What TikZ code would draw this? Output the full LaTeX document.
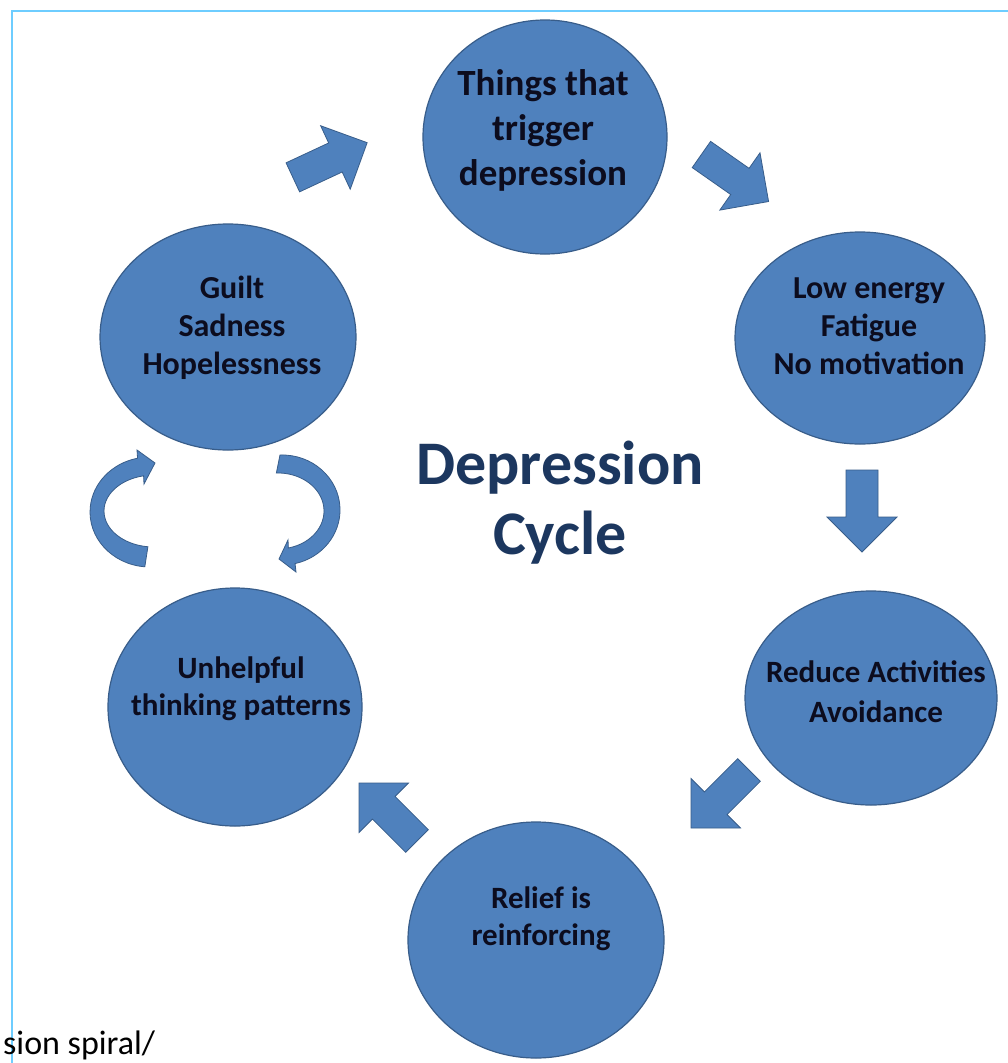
\documentclass[tikz,border=0pt]{standalone}
\usepackage{fontspec}
\setmainfont{Carlito}
\usetikzlibrary{shapes.geometric}

\definecolor{bubblefill}{RGB}{79,129,189}
\definecolor{bubbleline}{RGB}{56,93,138}
\definecolor{titleblue}{RGB}{28,55,95}
\definecolor{framecyan}{RGB}{110,205,255}
\definecolor{inkblack}{RGB}{12,12,30}

\begin{document}
\begin{tikzpicture}[x=1pt,y=-1pt,
    bubble/.style={ellipse,fill=bubblefill,draw=bubbleline,line width=1.2pt,inner sep=0pt},
    bubbletext/.style={align=center,text=inkblack,font=\fontsize{32}{38}\selectfont\bfseries},
    arrowbody/.style={fill=bubblefill,draw=bubbleline,line width=0.8pt,line join=miter},
    blockarrow/.pic={
      \filldraw[arrowbody] (-41,-16) -- (6,-16) -- (6,-35) -- (41,0)
                        -- (6,35) -- (6,16) -- (-41,16) -- cycle;
    }]
    \useasboundingbox (0,0) rectangle (1008,1063);
    \clip (0,0) rectangle (1008,1063);
    \fill[white] (0,0) rectangle (1008,1063);
    \draw[framecyan,line width=2pt] (12,1063) -- (12,11) -- (1008,11);

    \node[bubble,minimum width=244pt,minimum height=234pt] (trigger) at (545,137) {};
    \node[bubble,minimum width=250pt,minimum height=212pt] (energy)  at (860,338) {};
    \node[bubble,minimum width=252pt,minimum height=214pt] (reduce)  at (871,698) {};
    \node[bubble,minimum width=256pt,minimum height=236pt] (relief)  at (536,940) {};
    \node[bubble,minimum width=254pt,minimum height=238pt] (unhelp)  at (235,707) {};
    \node[bubble,minimum width=256pt,minimum height=226pt] (guilt)   at (228,337) {};

    \node[bubbletext,font=\fontsize{37}{45}\selectfont\bfseries] (triggertext) at (543,130) {Things that\\trigger\\depression};
    \node[bubbletext] (energytext) at (869,326) {Low energy\\Fatigue\\No motivation};
    \node[bubbletext,font=\fontsize{31}{40}\selectfont\bfseries] (reducetext) at (876,692) {Reduce Activities\\Avoidance};
    \node[bubbletext,font=\fontsize{31}{37}\selectfont\bfseries] (relieftext) at (541,919) {Relief is\\reinforcing};
    \node[bubbletext,font=\fontsize{31}{37}\selectfont\bfseries] (unhelptext) at (241,689) {Unhelpful\\thinking patterns};
    \node[bubbletext] (guilttext) at (232,328) {Guilt\\Sadness\\Hopelessness};

    \node[align=center,text=titleblue,font=\fontsize{62}{70}\selectfont\bfseries] (title) at (560,503) {Depression\\Cycle};

    \foreach \px/\py/\ang in {330/160/25, 735/178/-35, 862/511/-90, 720/799/-135, 388/812/135}
             {
               \pic[rotate=\ang] at (\px,\py) {blockarrow};
             }

    \filldraw[arrowbody] (144.8,566.8) arc[start angle=95,end angle=258,x radius=60,y radius=55]
       -- (137,450) -- (155,463) -- (144,484) -- (143.6,475.8)
       arc[start angle=258,end angle=97,x radius=50,y radius=36] -- cycle;
    \filldraw[arrowbody] (280,455) arc[start angle=268,end angle=437,x radius=58,y radius=55]
       -- (296,572) -- (279,559) -- (288,540) -- (288.35,548)
       arc[start angle=437,end angle=268,x radius=46,y radius=38] -- cycle;

    \node[anchor=base west,inner sep=0pt,font=\fontsize{34}{40}\selectfont] (source) at (3,1054) {sion spiral/};
\end{tikzpicture}
\end{document}
